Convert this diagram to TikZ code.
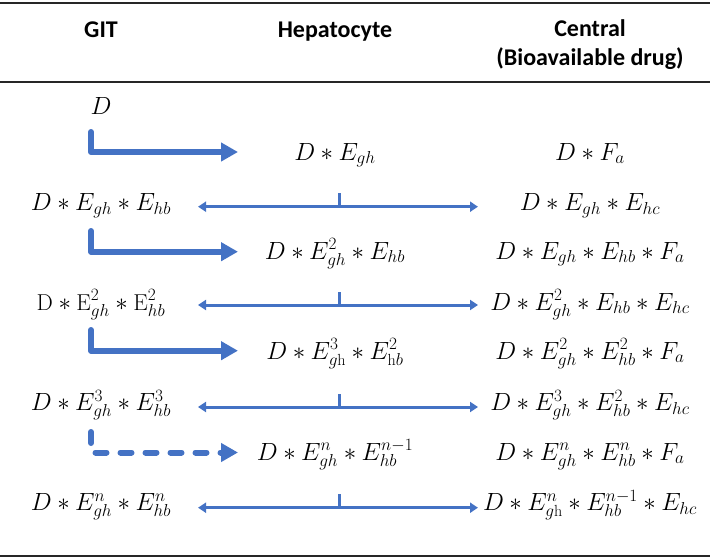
\documentclass[tikz,border=0pt]{standalone}
\usepackage{fontspec}
\newfontfamily\hdrfont{Carlito}
\usetikzlibrary{arrows.meta}
\definecolor{ablue}{HTML}{4472C4}
\begin{document}
\begin{tikzpicture}[x=1pt,y=-1pt,
  hdr/.style={font=\hdrfont\bfseries\fontsize{24}{29}\selectfont, align=center, inner sep=0pt, anchor=base},
  mth/.style={font=\fontsize{23}{27}\selectfont, inner sep=0pt, anchor=base},
  rulefmt/.style={line width=2pt, black!85},
  bigarr/.style={draw=ablue, line width=6pt, line join=round, line cap=round, -{Triangle[length=17pt,width=18pt]}},
  dasharr/.style={bigarr, dash pattern=on 11pt off 14pt},
  twoarr/.style={draw=ablue, line width=3pt, {Triangle[length=8pt,width=10pt]}-{Triangle[length=8pt,width=10pt]}},
  tickfmt/.style={draw=ablue, line width=3pt}]
\useasboundingbox (0,0) rectangle (710,558);
% rules
\draw[rulefmt] (0,2.8) -- (710,2.8);
\draw[rulefmt] (0,81.8) -- (710,81.8);
\draw[rulefmt] (0,555.8) -- (710,555.8);
% headers
\node[hdr] (hgit) at (101,37) {GIT};
\node[hdr] (hhep) at (335,37) {Hepatocyte};
\node[hdr] (hcen) at (590,65) {Central\\(Bioavailable drug)};
% GIT column
\node[mth] (g0) at (101,114) {$D$};
\node[mth] (g1) at (101,210.5) {$D * E_{gh} * E_{hb}$};
\node[mth] (g2) at (101,310) {$\mathrm{D} * \mathrm{E}_{gh}^{2} * \mathrm{E}_{hb}^{2}$};
\node[mth] (g3) at (101,410.5) {$D * E_{gh}^{3} * E_{hb}^{3}$};
\node[mth] (g4) at (101,510.5) {$D * E_{gh}^{n} * E_{hb}^{n}$};
% Hepatocyte column
\node[mth] (h1) at (335,160) {$D * E_{gh}$};
\node[mth] (h2) at (335,259) {$D * E_{gh}^{2} * E_{hb}$};
\node[mth] (h3) at (335,359) {$D * E_{g\mathrm{h}}^{3} * E_{\mathrm{h}b}^{2}$};
\node[mth] (h4) at (335,460) {$D * E_{gh}^{n} * E_{hb}^{n-1}$};
% Central column
\node[mth] (c1) at (590,160) {$D * F_{a}$};
\node[mth] (c2) at (590,210.5) {$D * E_{gh} * E_{hc}$};
\node[mth] (c3) at (590,259) {$D * E_{gh} * E_{hb} * F_{a}$};
\node[mth] (c4) at (590,310) {$D * E_{gh}^{2} * E_{hb} * E_{hc}$};
\node[mth] (c5) at (590,359) {$D * E_{gh}^{2} * E_{hb}^{2} * F_{a}$};
\node[mth] (c6) at (590,410.5) {$D * E_{gh}^{3} * E_{hb}^{2} * E_{hc}$};
\node[mth] (c7) at (590,460) {$D * E_{gh}^{n} * E_{hb}^{n} * F_{a}$};
\node[mth] (c8) at (590,510.5) {$D * E_{g\mathrm{h}}^{n} * E_{hb}^{n-1} * E_{hc}$};
% L arrows (GIT -> Hepatocyte)
\coordinate (s1) at (91,132);   \coordinate (t1) at (238,152);
\coordinate (s2) at (91,231);   \coordinate (t2) at (238,251.7);
\coordinate (s3) at (91,330);   \coordinate (t3) at (238,350.7);
\coordinate (s4) at (91,432);   \coordinate (t4) at (238,452.5);
\draw[bigarr] (s1) |- (t1);
\draw[bigarr] (s2) |- (t2);
\draw[bigarr] (s3) |- (t3);
\draw[dasharr] (s4) |- (t4);
% double arrows with ticks
\foreach \i/\yy in {1/206.7,2/305,3/407,4/507.7}{
  \coordinate (l\i) at (198,\yy);
  \coordinate (r\i) at (478,\yy);
  \coordinate (m\i) at (339,\yy);
  \coordinate (k\i) at (339,\yy-13.5);
  \draw[twoarr] (l\i) -- (r\i);
  \draw[tickfmt] (m\i) -- (k\i);
}
\end{tikzpicture}
\end{document}
